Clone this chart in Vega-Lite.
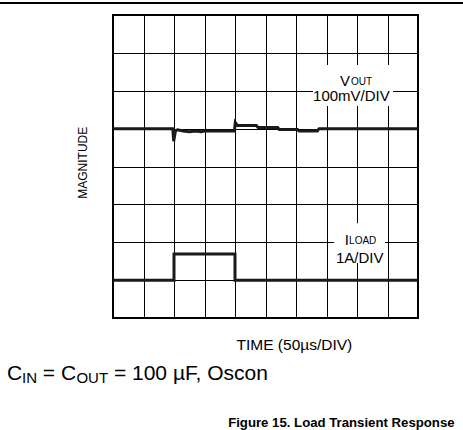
{
  "$schema": "https://vega.github.io/schema/vega-lite/v6.json",
  "width": 305,
  "height": 303,
  "autosize": {"type": "none"},
  "padding": {"left": 113, "top": 15, "right": 45, "bottom": 112},
  "background": "white",
  "config": {
    "view": {"stroke": "#000", "strokeWidth": 2},
    "font": "Liberation Sans",
    "text": {"font": "Liberation Sans", "color": "#000"}
  },
  "datasets": {
    "traces": [
      {"series": "vout", "i": 0, "x": 0, "y": 5},
      {"series": "vout", "i": 1, "x": 1.96, "y": 5},
      {"series": "vout", "i": 2, "x": 1.99, "y": 4.67},
      {"series": "vout", "i": 3, "x": 2.05, "y": 4.95},
      {"series": "vout", "i": 4, "x": 2.12, "y": 4.97},
      {"series": "vout", "i": 5, "x": 2.3, "y": 4.94},
      {"series": "vout", "i": 6, "x": 2.5, "y": 4.92},
      {"series": "vout", "i": 7, "x": 2.7, "y": 4.94},
      {"series": "vout", "i": 8, "x": 2.9, "y": 4.92},
      {"series": "vout", "i": 9, "x": 3.0, "y": 4.94},
      {"series": "vout", "i": 10, "x": 3.98, "y": 4.94},
      {"series": "vout", "i": 11, "x": 4.01, "y": 5.16},
      {"series": "vout", "i": 12, "x": 4.08, "y": 5.08},
      {"series": "vout", "i": 13, "x": 4.7, "y": 5.08},
      {"series": "vout", "i": 14, "x": 4.76, "y": 5.03},
      {"series": "vout", "i": 15, "x": 5.4, "y": 5.03},
      {"series": "vout", "i": 16, "x": 5.45, "y": 4.98},
      {"series": "vout", "i": 17, "x": 6.05, "y": 4.98},
      {"series": "vout", "i": 18, "x": 6.1, "y": 4.94},
      {"series": "vout", "i": 19, "x": 6.7, "y": 4.94},
      {"series": "vout", "i": 20, "x": 6.76, "y": 5.0},
      {"series": "vout", "i": 21, "x": 10, "y": 5},
      {"series": "iload", "i": 0, "x": 0, "y": 1},
      {"series": "iload", "i": 1, "x": 2.0, "y": 1},
      {"series": "iload", "i": 2, "x": 2.0, "y": 1.69},
      {"series": "iload", "i": 3, "x": 4.0, "y": 1.69},
      {"series": "iload", "i": 4, "x": 4.0, "y": 1},
      {"series": "iload", "i": 5, "x": 10, "y": 1}
    ],
    "boxes": [
      {"x": 6.56, "x2": 9.18, "y": 6.68, "y2": 5.6},
      {"x": 7.25, "x2": 8.92, "y": 2.5, "y2": 1.45}
    ],
    "texts": [
      {"group": "l15", "label": "100mV/DIV", "x": 6.56, "y": 5.85},
      {"group": "l15", "label": "V", "x": 7.44, "y": 6.27},
      {"group": "l15", "label": "I", "x": 7.6, "y": 2.07},
      {"group": "l15", "label": "1A/DIV", "x": 7.31, "y": 1.59},
      {"group": "time", "label": "TIME (50µs/DIV)", "x": 4.05, "y": -0.72},
      {"group": "l10", "label": "OUT", "x": 7.8, "y": 6.22},
      {"group": "l10", "label": "LOAD", "x": 7.74, "y": 2.04},
      {"group": "c21", "label": "C", "x": -3.475, "y": -1.47},
      {"group": "c21", "label": "= C", "x": -2.3, "y": -1.47},
      {"group": "c21", "label": "= 100 µF, Oscon", "x": 0.03, "y": -1.47},
      {"group": "c15", "label": "IN", "x": -2.98, "y": -1.58},
      {"group": "c15", "label": "OUT", "x": -1.2, "y": -1.58},
      {"group": "fig", "label": "Figure 15. Load Transient Response", "x": 11.2, "y": -2.77},
      {"group": "mag", "label": "MAGNITUDE", "x": -0.98, "y": 4.1}
    ],
    "pagerule": [
      {"x": -3.71, "x2": 11.48, "y": 8.32}
    ]
  },
  "encoding": {
    "x": {
      "field": "x", "type": "quantitative",
      "scale": {"domain": [0, 10], "nice": false, "zero": false},
      "axis": {"values": [0,1,2,3,4,5,6,7,8,9,10], "grid": true, "gridColor": "#000", "gridOpacity": 1, "gridWidth": 1, "labels": false, "ticks": false, "domain": false, "title": null}
    },
    "y": {
      "field": "y", "type": "quantitative",
      "scale": {"domain": [0, 8], "nice": false, "zero": false},
      "axis": {"values": [0,1,2,3,4,5,6,7,8], "grid": true, "gridColor": "#000", "gridOpacity": 1, "gridWidth": 1, "labels": false, "ticks": false, "domain": false, "title": null}
    }
  },
  "layer": [
    {
      "data": {"name": "boxes"},
      "mark": {"type": "rect", "color": "white"},
      "encoding": {"x2": {"field": "x2"}, "y2": {"field": "y2"}}
    },
    {
      "data": {"name": "traces"},
      "mark": {"type": "line", "color": "#1a1a1a", "strokeWidth": 3, "strokeJoin": "miter"},
      "encoding": {"detail": {"field": "series"}, "order": {"field": "i", "type": "quantitative"}}
    },
    {
      "data": {"name": "texts"},
      "transform": [{"filter": "datum.group === 'l15'"}],
      "mark": {"type": "text", "align": "left", "fontSize": 15},
      "encoding": {"text": {"field": "label"}}
    },
    {
      "data": {"name": "texts"},
      "transform": [{"filter": "datum.group === 'time'"}],
      "mark": {"type": "text", "align": "left", "fontSize": 15.5},
      "encoding": {"text": {"field": "label"}}
    },
    {
      "data": {"name": "texts"},
      "transform": [{"filter": "datum.group === 'l10'"}],
      "mark": {"type": "text", "align": "left", "fontSize": 10},
      "encoding": {"text": {"field": "label"}}
    },
    {
      "data": {"name": "texts"},
      "transform": [{"filter": "datum.group === 'c21'"}],
      "mark": {"type": "text", "align": "left", "fontSize": 21},
      "encoding": {"text": {"field": "label"}}
    },
    {
      "data": {"name": "texts"},
      "transform": [{"filter": "datum.group === 'c15'"}],
      "mark": {"type": "text", "align": "left", "fontSize": 15},
      "encoding": {"text": {"field": "label"}}
    },
    {
      "data": {"name": "texts"},
      "transform": [{"filter": "datum.group === 'fig'"}],
      "mark": {"type": "text", "align": "right", "fontSize": 13.2, "fontWeight": "bold"},
      "encoding": {"text": {"field": "label"}}
    },
    {
      "data": {"name": "texts"},
      "transform": [{"filter": "datum.group === 'mag'"}],
      "mark": {"type": "text", "align": "center", "baseline": "middle", "angle": 270, "fontSize": 12},
      "encoding": {"text": {"field": "label"}}
    },
    {
      "data": {"name": "pagerule"},
      "mark": {"type": "rule", "color": "#000", "strokeWidth": 2},
      "encoding": {"x2": {"field": "x2"}}
    }
  ]
}
